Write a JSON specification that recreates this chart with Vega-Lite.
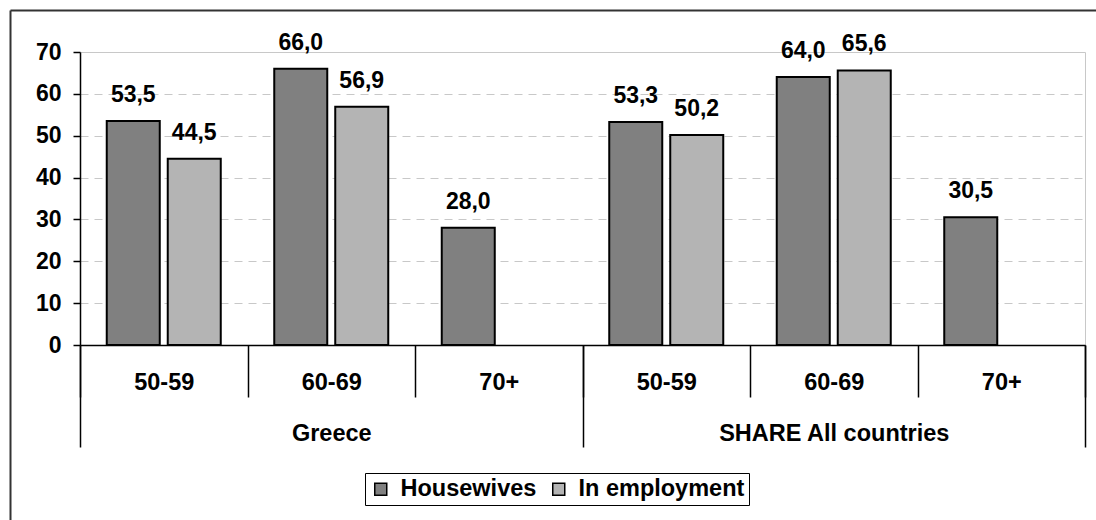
{
  "$schema": "https://vega.github.io/schema/vega-lite/v6.json",
  "width": 1005,
  "height": 293,
  "autosize": {"type": "none"},
  "padding": {"left": 80, "top": 52, "right": 11, "bottom": 175},
  "background": "white",
  "config": {
    "locale": {"number": {"decimal": ",", "thousands": ".", "grouping": [3], "currency": ["", " €"]}},
    "font": "Liberation Sans",
    "view": {"stroke": "#c8c8c8", "strokeWidth": 1},
    "axis": {"labelFont": "Liberation Sans", "labelFontWeight": "bold", "labelColor": "black", "domainColor": "black", "tickColor": "black", "labelLimit": 400},
    "legend": {
      "labelFont": "Liberation Sans", "labelFontWeight": "bold", "labelFontSize": 23.5, "labelColor": "black",
      "labelLimit": 400, "symbolType": "square", "symbolSize": 144, "symbolStrokeColor": "black", "symbolStrokeWidth": 1.5,
      "strokeColor": "black", "fillColor": "white", "padding": 4, "labelOffset": 8, "columnPadding": 10
    }
  },
  "datasets": {
    "bars": [
      {"country": "Greece", "age": "50-59", "cat": "Greece|50-59", "series": "Housewives", "value": 53.5},
      {"country": "Greece", "age": "50-59", "cat": "Greece|50-59", "series": "In employment", "value": 44.5},
      {"country": "Greece", "age": "60-69", "cat": "Greece|60-69", "series": "Housewives", "value": 66.0},
      {"country": "Greece", "age": "60-69", "cat": "Greece|60-69", "series": "In employment", "value": 56.9},
      {"country": "Greece", "age": "70+", "cat": "Greece|70+", "series": "Housewives", "value": 28.0},
      {"country": "SHARE All countries", "age": "50-59", "cat": "SHARE All countries|50-59", "series": "Housewives", "value": 53.3},
      {"country": "SHARE All countries", "age": "50-59", "cat": "SHARE All countries|50-59", "series": "In employment", "value": 50.2},
      {"country": "SHARE All countries", "age": "60-69", "cat": "SHARE All countries|60-69", "series": "Housewives", "value": 64.0},
      {"country": "SHARE All countries", "age": "60-69", "cat": "SHARE All countries|60-69", "series": "In employment", "value": 65.6},
      {"country": "SHARE All countries", "age": "70+", "cat": "SHARE All countries|70+", "series": "Housewives", "value": 30.5}
    ],
    "countries": [{"country": "Greece"}, {"country": "SHARE All countries"}]
  },
  "layer": [
    {
      "data": {"name": "bars"},
      "encoding": {
        "x": {
          "field": "cat", "type": "nominal", "sort": null,
          "scale": {"type": "band", "paddingInner": 0, "paddingOuter": 0},
          "axis": {"title": null, "orient": "bottom", "labelExpr": "split(datum.label, '|')[1]", "tickBand": "extent",
                   "tickSize": 52, "tickWidth": 1.5, "domainWidth": 1.5, "labelFontSize": 23.5, "labelPadding": -27,
                   "labelAngle": 0, "labelBaseline": "top", "grid": false, "labelOverlap": false}
        },
        "xOffset": {"field": "series", "type": "nominal", "scale": {"domain": ["Housewives", "In employment"], "paddingInner": 0.131, "paddingOuter": 0.4385}},
        "y": {
          "field": "value", "type": "quantitative", "scale": {"domain": [0, 70], "nice": false},
          "axis": {"title": null, "values": [0, 10, 20, 30, 40, 50, 60, 70], "tickSize": 7, "tickWidth": 1.5, "domainWidth": 1.5,
                   "labelFontSize": 23, "labelPadding": 12, "grid": true, "gridColor": "#c8c8c8", "gridDash": [8, 6], "gridWidth": 1}
        }
      },
      "layer": [
        {
          "mark": {"type": "bar", "stroke": "black", "strokeWidth": 2},
          "encoding": {
            "color": {
              "field": "series", "type": "nominal",
              "scale": {"domain": ["Housewives", "In employment"], "range": ["#808080", "#b4b4b4"]},
              "legend": {"orient": "none", "legendX": 285, "legendY": 421, "direction": "horizontal", "columns": 2, "title": null}
            }
          }
        },
        {
          "mark": {"type": "text", "dy": -19, "baseline": "alphabetic", "fontSize": 23, "fontWeight": "bold", "font": "Liberation Sans", "color": "black"},
          "encoding": {"text": {"field": "value", "type": "quantitative", "format": ".1f"}}
        }
      ]
    },
    {
      "data": {"name": "countries"},
      "mark": {"type": "point", "opacity": 0},
      "encoding": {
        "x": {
          "field": "country", "type": "nominal",
          "scale": {"type": "band", "paddingInner": 0, "paddingOuter": 0},
          "axis": {"title": null, "orient": "bottom", "domain": false, "tickBand": "extent", "tickSize": 102, "tickWidth": 1.5,
                   "labelFontSize": 23.5, "labelPadding": -25.6, "labelAngle": 0, "labelBaseline": "top", "grid": false, "labelOverlap": false}
        }
      }
    },
    {
      "data": {"name": "countries"},
      "mark": {"type": "point", "opacity": 0},
      "encoding": {
        "x": {
          "field": "country", "type": "nominal", "scale": {"type": "point", "range": [-70, 1016]},
          "axis": {"orient": "top", "offset": 42, "title": null, "labels": false, "ticks": false, "grid": false, "domainColor": "#333333", "domainWidth": 2}
        },
        "y": {
          "field": "country", "type": "nominal", "scale": {"type": "point", "range": [468, -42]},
          "axis": {"orient": "left", "offset": 70, "title": null, "labels": false, "ticks": false, "grid": false, "domainColor": "#333333", "domainWidth": 2}
        }
      }
    }
  ],
  "resolve": {"scale": {"x": "independent", "y": "independent"}}
}
